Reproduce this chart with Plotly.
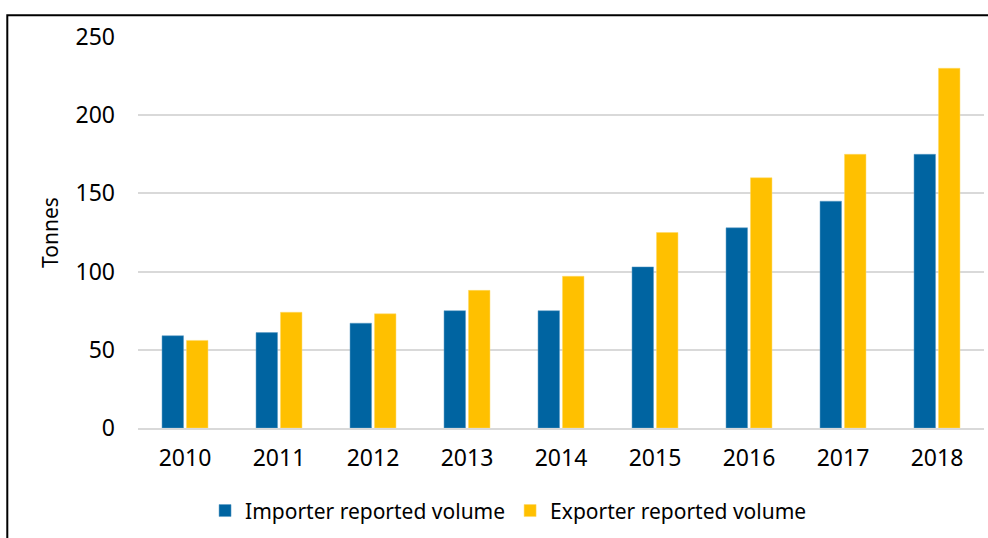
import plotly.graph_objects as go

years = ['2010', '2011', '2012', '2013', '2014', '2015', '2016', '2017', '2018']
importer = [59, 61, 67, 75, 75, 103, 128, 145, 175]
exporter = [56, 74, 73, 88, 97, 125, 160, 175, 230]

blue = '#0064A1'
yellow = '#FFC000'
font_name = 'Noto Sans'

fig = go.Figure()

fig.add_trace(go.Bar(
    name='Importer reported volume', x=years, y=importer,
    marker=dict(color=blue, line=dict(color='#5c9cc6', width=0.5))))
fig.add_trace(go.Bar(
    name='Exporter reported volume', x=years, y=exporter,
    marker=dict(color=yellow, line=dict(color='#ffd966', width=0.5))))

fig.update_layout(
    width=988, height=538,
    margin=dict(l=138, r=4, t=37, b=110),
    plot_bgcolor='white',
    paper_bgcolor='white',
    barmode='group',
    bargap=0.48,
    bargroupgap=0.12,
    font=dict(family=font_name, size=23, color='#000000'),
    legend=dict(orientation='h', x=0.438, xanchor='center', y=-0.212, yanchor='middle',
                font=dict(size=21), itemwidth=30, tracegroupgap=0),
    xaxis=dict(showgrid=False, showline=True, linecolor='#d9d9d9', linewidth=2,
               ticks='', ticklabelstandoff=8),
    yaxis=dict(range=[0, 250], dtick=50, showgrid=True, gridcolor='#d9d9d9', gridwidth=1.5,
               zeroline=False, ticks='', ticklabelstandoff=22,
               title=dict(text='Tonnes', font=dict(size=21), standoff=11)),
)

# outer frame (partly cut off in the original picture)
fig.add_shape(type='rect', xref='paper', yref='paper',
              x0=-0.1545, x1=1.01, y0=-0.35, y1=1.0555,
              line=dict(color='black', width=2), layer='below')

fig.write_html("out.html", config={'displayModeBar': False},
               post_script="document.body.style.margin='0px';")
